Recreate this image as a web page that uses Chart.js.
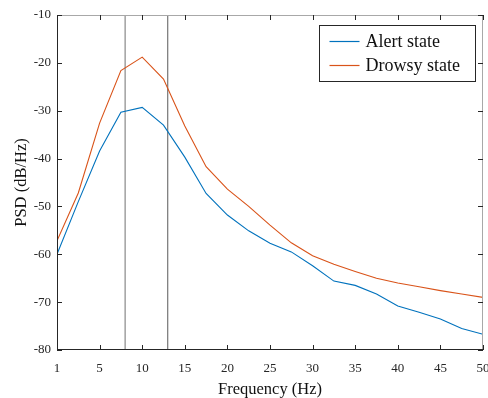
<!DOCTYPE html>
<html>
<head>
<meta charset="utf-8">
<script src="https://cdn.jsdelivr.net/npm/chart.js@4/dist/chart.umd.min.js"></script>
<style>
  html, body { margin: 0; padding: 0; background: #fff; }
  #wrap { width: 488px; height: 398px; }
</style>
</head>
<body>
<div id="wrap"><canvas id="psd"></canvas></div>
<script>
// frequency bins (Hz)
const freqs = [0, 2.5, 5, 7.5, 10, 12.5, 15, 17.5, 20, 22.5, 25, 27.5, 30, 32.5, 35, 37.5, 40, 42.5, 45, 47.5, 50];
// PSD values (dB/Hz)
const alertPsd = [-60, -49, -38.4, -30.3, -29.3, -33.0, -39.7, -47.3, -51.8, -55.1, -57.7, -59.5, -62.4, -65.6, -66.5, -68.3, -70.8, -72.1, -73.5, -75.5, -76.7];
const drowsyPsd = [-57.2, -47.2, -32.6, -21.6, -18.8, -23.4, -33.2, -41.7, -46.4, -50.0, -53.9, -57.6, -60.3, -62.1, -63.6, -65.0, -66.0, -66.8, -67.6, -68.3, -69.0];
const seriesLabels = ['Alert state', 'Drowsy state'];
// alpha band edges
const bandEdges = [8, 13];
// axis ticks
const xTickValues = [0, 5, 10, 15, 20, 25, 30, 35, 40, 45, 50];
const xTickLabels = ['1', '5', '10', '15', '20', '25', '30', '35', '40', '45', '50'];
const yTickValues = [-80, -70, -60, -50, -40, -30, -20, -10];

const serif = '"Liberation Serif", "Times New Roman", serif';
const axisDark = '#262626';

const toPoints = (xs, ys) => xs.map((x, i) => ({ x: x, y: ys[i] }));

// box round the axes, ticks pointing inwards, legend inside the plot
const frameAndLegend = {
    id: 'frameAndLegend',
    afterDatasetsDraw(chart) {
        const { ctx, chartArea: a, scales } = chart;
        const tick = 5;
        ctx.save();
        ctx.lineWidth = 1;

        // top and right edges, lighter
        ctx.strokeStyle = '#a8a8a8';
        ctx.beginPath();
        ctx.moveTo(a.left, a.top + 0.5);
        ctx.lineTo(a.right - 0.5, a.top + 0.5);
        ctx.lineTo(a.right - 0.5, a.bottom);
        ctx.stroke();

        // left and bottom edges
        ctx.strokeStyle = axisDark;
        ctx.beginPath();
        ctx.moveTo(a.left + 0.5, a.top);
        ctx.lineTo(a.left + 0.5, a.bottom - 0.5);
        ctx.lineTo(a.right, a.bottom - 0.5);
        ctx.stroke();

        ctx.beginPath();
        xTickValues.forEach(v => {
            const px = Math.round(scales.x.getPixelForValue(v)) + 0.5;
            ctx.moveTo(px, a.bottom);
            ctx.lineTo(px, a.bottom - tick);
            ctx.moveTo(px, a.top);
            ctx.lineTo(px, a.top + tick);
        });
        yTickValues.forEach(v => {
            const py = Math.round(scales.y.getPixelForValue(v)) + 0.5;
            ctx.moveTo(a.left, py);
            ctx.lineTo(a.left + tick, py);
            ctx.moveTo(a.right, py);
            ctx.lineTo(a.right - tick, py);
        });
        ctx.stroke();

        // legend
        const bx = 319.5, by = 25.5, bw = 156, bh = 56;
        ctx.fillStyle = '#fff';
        ctx.fillRect(bx, by, bw, bh);
        ctx.strokeStyle = axisDark;
        ctx.strokeRect(bx, by, bw, bh);
        ctx.font = '18px ' + serif;
        ctx.textBaseline = 'middle';
        seriesLabels.forEach((label, i) => {
            const ds = chart.data.datasets[i];
            const cy = by + 16 + i * 24;
            ctx.strokeStyle = ds.borderColor;
            ctx.lineWidth = 1.2;
            ctx.beginPath();
            ctx.moveTo(bx + 10, cy);
            ctx.lineTo(bx + 40, cy);
            ctx.stroke();
            ctx.fillStyle = '#111';
            ctx.fillText(label, bx + 46, cy + 1);
        });
        ctx.restore();
    }
};

new Chart(document.getElementById('psd'), {
    type: 'line',
    data: {
        datasets: [
            { label: seriesLabels[0], data: toPoints(freqs, alertPsd), borderColor: '#0072BD', borderWidth: 1.1, pointRadius: 0, tension: 0, order: 1 },
            { label: seriesLabels[1], data: toPoints(freqs, drowsyPsd), borderColor: '#D95319', borderWidth: 1.1, pointRadius: 0, tension: 0, order: 1 },
            { label: 'band low', data: [{ x: bandEdges[0], y: -80 }, { x: bandEdges[0], y: -10 }], borderColor: '#a6a6a6', borderWidth: 1.6, pointRadius: 0, order: 2 },
            { label: 'band high', data: [{ x: bandEdges[1], y: -80 }, { x: bandEdges[1], y: -10 }], borderColor: '#5a5a5a', borderWidth: 1, pointRadius: 0, order: 2 }
        ]
    },
    options: {
        responsive: true,
        maintainAspectRatio: false,
        animation: false,
        layout: { padding: { left: 0, right: 5, top: 15, bottom: 0 } },
        plugins: {
            legend: { display: false },
            tooltip: { enabled: false }
        },
        scales: {
            x: {
                type: 'linear',
                min: 0,
                max: 50,
                grid: { display: false, drawTicks: false },
                border: { display: false },
                afterBuildTicks: scale => { scale.ticks = xTickValues.map(v => ({ value: v })); },
                afterFit: scale => {
                    scale.height = 48;
                    // let the last label run past the plot edge, as in the original
                    scale.paddingLeft = 0;
                    scale.paddingRight = 0;
                },
                ticks: {
                    padding: 11,
                    color: '#262626',
                    font: { family: serif, size: 13 },
                    maxRotation: 0,
                    callback: (value) => xTickLabels[xTickValues.indexOf(value)]
                },
                title: { display: true, text: 'Frequency (Hz)', color: '#111', font: { family: serif, size: 16.5 }, padding: { top: 0, bottom: -2 } }
            },
            y: {
                min: -80,
                max: -10,
                grid: { display: false, drawTicks: false },
                border: { display: false },
                afterBuildTicks: scale => { scale.ticks = yTickValues.map(v => ({ value: v })); },
                afterFit: scale => {
                    scale.width = 57;
                    scale.paddingTop = 0;
                    scale.paddingBottom = 0;
                },
                ticks: {
                    padding: 6,
                    color: '#262626',
                    font: { family: serif, size: 13 }
                },
                title: { display: true, text: 'PSD (dB/Hz)', color: '#111', font: { family: serif, size: 16.5 }, padding: { top: 12, bottom: 0 } }
            }
        }
    },
    plugins: [frameAndLegend]
});
</script>
</body>
</html>
